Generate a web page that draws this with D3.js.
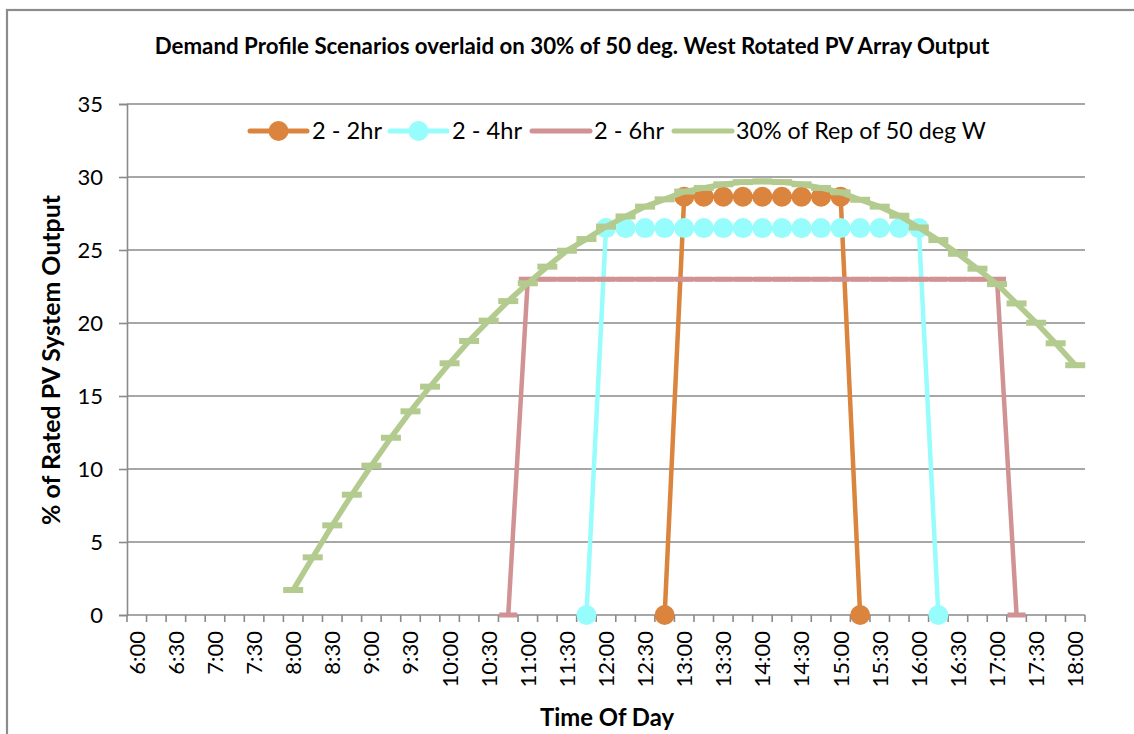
<!DOCTYPE html>
<html>
<head>
<meta charset="utf-8">
<script src="https://cdn.jsdelivr.net/npm/d3@7"></script>
<style>
  html, body { margin: 0; padding: 0; background: #fff; }
  svg { display: block; font-family: Lato, "Open Sans", sans-serif; }
</style>
</head>
<body>
<svg id="chart" width="1134" height="734"></svg>
<script>
// ---------------- DATA ----------------
const categories = ["6:00","6:15","6:30","6:45","7:00","7:15","7:30","7:45",
  "8:00","8:15","8:30","8:45","9:00","9:15","9:30","9:45",
  "10:00","10:15","10:30","10:45","11:00","11:15","11:30","11:45",
  "12:00","12:15","12:30","12:45","13:00","13:15","13:30","13:45",
  "14:00","14:15","14:30","14:45","15:00","15:15","15:30","15:45",
  "16:00","16:15","16:30","16:45","17:00","17:15","17:30","17:45","18:00"];

const tickLabels = ["6:00","6:30","7:00","7:30","8:00","8:30","9:00","9:30",
  "10:00","10:30","11:00","11:30","12:00","12:30","13:00","13:30",
  "14:00","14:30","15:00","15:30","16:00","16:30","17:00","17:30","18:00"];

const yTicks = [0, 5, 10, 15, 20, 25, 30, 35];

// 2 - 2hr scenario
const times2hr = ["12:45","13:00","13:15","13:30","13:45","14:00","14:15","14:30","14:45","15:00","15:15"];
const values2hr = [0, 28.65, 28.65, 28.65, 28.65, 28.65, 28.65, 28.65, 28.65, 28.65, 0];

// 2 - 4hr scenario
const times4hr = ["11:45","12:00","12:15","12:30","12:45","13:00","13:15","13:30","13:45","14:00",
  "14:15","14:30","14:45","15:00","15:15","15:30","15:45","16:00","16:15"];
const values4hr = [0, 26.5, 26.5, 26.5, 26.5, 26.5, 26.5, 26.5, 26.5, 26.5,
  26.5, 26.5, 26.5, 26.5, 26.5, 26.5, 26.5, 26.5, 0];

// 2 - 6hr scenario
const times6hr = ["10:45","11:00","11:15","11:30","11:45","12:00","12:15","12:30","12:45","13:00",
  "13:15","13:30","13:45","14:00","14:15","14:30","14:45","15:00","15:15","15:30",
  "15:45","16:00","16:15","16:30","16:45","17:00","17:15"];
const values6hr = [0, 23, 23, 23, 23, 23, 23, 23, 23, 23,
  23, 23, 23, 23, 23, 23, 23, 23, 23, 23,
  23, 23, 23, 23, 23, 23, 0];

// 30% of Rep of 50 deg W
const timesPV = ["8:00","8:15","8:30","8:45","9:00","9:15","9:30","9:45",
  "10:00","10:15","10:30","10:45","11:00","11:15","11:30","11:45",
  "12:00","12:15","12:30","12:45","13:00","13:15","13:30","13:45",
  "14:00","14:15","14:30","14:45","15:00","15:15","15:30","15:45",
  "16:00","16:15","16:30","16:45","17:00","17:15","17:30","17:45","18:00"];
const valuesPV = [1.71, 3.95, 6.14, 8.24, 10.23, 12.14, 13.95, 15.64,
  17.24, 18.77, 20.16, 21.5, 22.72, 23.86, 24.95, 25.75,
  26.6, 27.3, 27.97, 28.47, 29.0, 29.25, 29.5, 29.65,
  29.7, 29.65, 29.5, 29.25, 28.95, 28.44, 27.97, 27.35,
  26.54, 25.68, 24.74, 23.72, 22.66, 21.34, 20.02, 18.61, 17.11];

const seriesNames = ["2 - 2hr", "2 - 4hr", "2 - 6hr", "30% of Rep of 50 deg W"];
const title = "Demand Profile Scenarios overlaid on 30% of 50 deg. West Rotated PV Array Output";
const xTitle = "Time Of Day";
const yTitle = "% of Rated PV System Output";

// ---------------- STYLE ----------------
const colors = { o: "#DB843D", c: "#97FCFC", p: "#D09293", g: "#B4CB8F" };
const gridColor = "#8A8A8A";

// ---------------- LAYOUT ----------------
const svg = d3.select("#chart");
const plot = { left: 127, right: 1085, top: 104, bottom: 615 };

const x = d3.scaleBand().domain(categories).range([plot.left, plot.right]).paddingInner(0).paddingOuter(0);
const cx = d => x(d) + x.bandwidth() / 2;
const y = d3.scaleLinear().domain([0, 35]).range([plot.bottom, plot.top]);

function fitWidth(sel, target) {
  const node = sel.node();
  const fs = parseFloat(sel.attr("font-size"));
  const w = node.getComputedTextLength();
  if (w > 0) sel.attr("font-size", (fs * target / w).toFixed(2));
}

// chart frame
svg.append("rect").attr("x", 7).attr("y", 10).attr("width", 1140).attr("height", 740)
  .attr("fill", "none").attr("stroke", "#8C8C8C").attr("stroke-width", 2.2);

// title
const t = svg.append("text").attr("x", 572).attr("y", 54).attr("text-anchor", "middle")
  .attr("font-weight", "bold").attr("font-size", 19).attr("fill", "#000").text(title);
fitWidth(t, 835);

// gridlines
svg.append("g").selectAll("line").data(yTicks.filter(v => v > 0)).join("line")
  .attr("x1", plot.left).attr("x2", plot.right)
  .attr("y1", d => y(d)).attr("y2", d => y(d))
  .attr("stroke", gridColor).attr("stroke-width", 1.6);

// y axis
const yAxis = svg.append("g").attr("transform", `translate(${plot.left},0)`)
  .call(d3.axisLeft(y).tickValues(yTicks).tickSize(8).tickPadding(16).tickFormat(d3.format("d")));
yAxis.select(".domain").attr("stroke", gridColor).attr("stroke-width", 1.6);
yAxis.selectAll(".tick line").attr("stroke", gridColor).attr("stroke-width", 1.6);
yAxis.selectAll(".tick text").attr("font-size", 22).attr("font-family", "Lato").attr("fill", "#000");

// x axis line + category boundary ticks
const xg = svg.append("g");
xg.append("line").attr("x1", plot.left).attr("x2", plot.right)
  .attr("y1", plot.bottom).attr("y2", plot.bottom)
  .attr("stroke", gridColor).attr("stroke-width", 1.6);
const boundaries = categories.map(c => x(c)).concat([x.range()[1]]);
xg.selectAll("line.tk").data(boundaries).join("line").attr("class", "tk")
  .attr("x1", d => d).attr("x2", d => d)
  .attr("y1", plot.bottom).attr("y2", plot.bottom + 7)
  .attr("stroke", gridColor).attr("stroke-width", 1.6);
xg.selectAll("text").data(tickLabels).join("text")
  .attr("transform", d => `translate(${cx(d)},631) rotate(-90)`)
  .attr("text-anchor", "end").attr("dy", "0.36em")
  .attr("font-size", 22).attr("fill", "#000").text(d => d);

// axis titles
const xt = svg.append("text").attr("x", 607).attr("y", 726).attr("text-anchor", "middle")
  .attr("font-weight", "bold").attr("font-size", 22).text(xTitle);
fitWidth(xt, 134);
const yt = svg.append("text").attr("transform", "translate(60,360) rotate(-90)")
  .attr("text-anchor", "middle").attr("font-weight", "bold").attr("font-size", 22).text(yTitle);
fitWidth(yt, 330);

// series
const line = d3.line().x(d => cx(d.t)).y(d => y(d.v));
const zip = (ts, vs) => ts.map((t, i) => ({ t, v: vs[i] }));

const s2 = zip(times2hr, values2hr);
const s4 = zip(times4hr, values4hr);
const s6 = zip(times6hr, values6hr);
const sPV = zip(timesPV, valuesPV);

const gS = svg.append("g");
// 2 - 2hr
gS.append("path").datum(s2).attr("d", line).attr("fill", "none")
  .attr("stroke", colors.o).attr("stroke-width", 4.5).attr("stroke-linejoin", "round");
gS.append("g").selectAll("circle").data(s2).join("circle")
  .attr("cx", d => cx(d.t)).attr("cy", d => y(d.v)).attr("r", 10).attr("fill", colors.o);
// 2 - 4hr
gS.append("path").datum(s4).attr("d", line).attr("fill", "none")
  .attr("stroke", colors.c).attr("stroke-width", 4.5).attr("stroke-linejoin", "round");
gS.append("g").selectAll("circle").data(s4).join("circle")
  .attr("cx", d => cx(d.t)).attr("cy", d => y(d.v)).attr("r", 10).attr("fill", colors.c);
// 2 - 6hr
gS.append("path").datum(s6).attr("d", line).attr("fill", "none")
  .attr("stroke", colors.p).attr("stroke-width", 4.5).attr("stroke-linejoin", "round");
gS.append("g").selectAll("rect").data(s6).join("rect")
  .attr("x", d => cx(d.t) - 9).attr("y", d => y(d.v) - 2.5).attr("width", 18).attr("height", 5)
  .attr("fill", colors.p);
// PV
gS.append("path").datum(sPV).attr("d", line).attr("fill", "none")
  .attr("stroke", colors.g).attr("stroke-width", 5.5).attr("stroke-linejoin", "round");
gS.append("g").selectAll("rect").data(sPV).join("rect")
  .attr("x", d => cx(d.t) - 10).attr("y", d => y(d.v) - 3).attr("width", 20).attr("height", 6)
  .attr("fill", colors.g);

// legend
const legendItems = [
  { name: seriesNames[0], color: colors.o, x1: 250, x2: 307, marker: true,  tx: 312, tw: 70 },
  { name: seriesNames[1], color: colors.c, x1: 390, x2: 447, marker: true,  tx: 452, tw: 70 },
  { name: seriesNames[2], color: colors.p, x1: 532, x2: 590, marker: false, tx: 594, tw: 70 },
  { name: seriesNames[3], color: colors.g, x1: 674, x2: 732, marker: false, tx: 736, tw: 250 }
];
const ly = 131;
const lg = svg.append("g");
legendItems.forEach(it => {
  lg.append("line").attr("x1", it.x1).attr("x2", it.x2).attr("y1", ly).attr("y2", ly)
    .attr("stroke", it.color).attr("stroke-width", 5).attr("stroke-linecap", "round");
  if (it.marker) lg.append("circle").attr("cx", (it.x1 + it.x2) / 2).attr("cy", ly).attr("r", 10).attr("fill", it.color);
  const tx = lg.append("text").attr("x", it.tx).attr("y", ly).attr("dy", "0.36em")
    .attr("font-size", 22).attr("fill", "#000").text(it.name);
  fitWidth(tx, it.tw);
});
</script>
</body>
</html>
